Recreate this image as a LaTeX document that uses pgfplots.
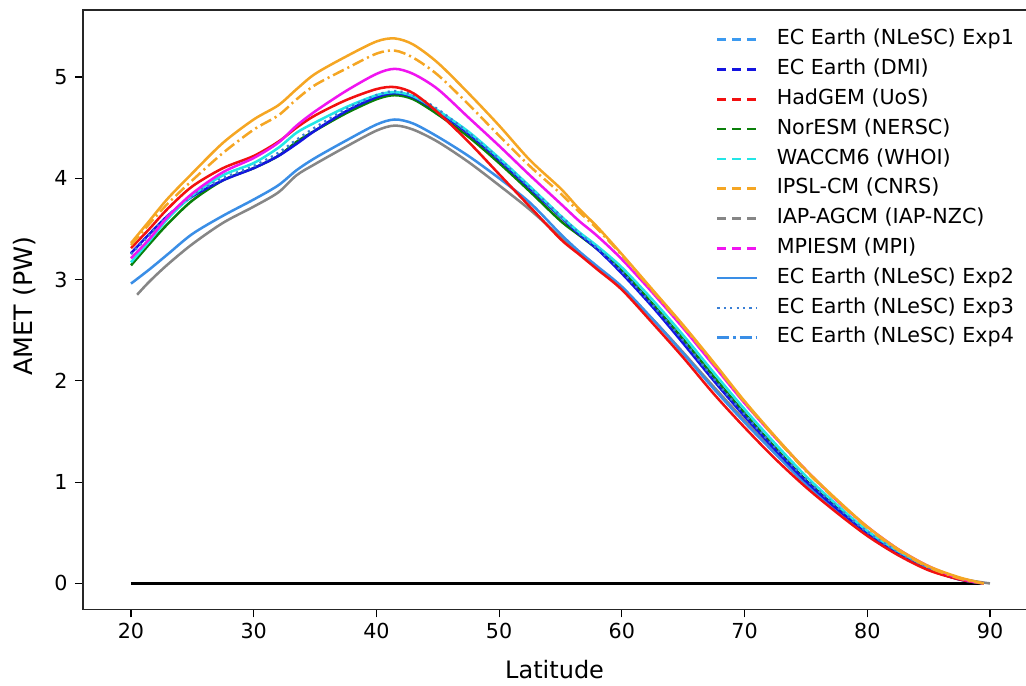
\documentclass[border=0pt]{standalone}
\usepackage{pgfplots}
\pgfplotsset{compat=1.18}
\usepackage{pgfplotstable}
\usepackage{fontspec}
\setmainfont{DejaVu Sans}

\definecolor{cExpA}{HTML}{3C9AF0}
\definecolor{cDMI}{HTML}{1414E0}
\definecolor{cHad}{HTML}{F21010}
\definecolor{cNor}{HTML}{0A800A}
\definecolor{cWac}{HTML}{22E6E6}
\definecolor{cIPSL}{HTML}{F5A623}
\definecolor{cIAP}{HTML}{868686}
\definecolor{cMPI}{HTML}{F014F0}
\definecolor{cExpB}{HTML}{3A8EE6}
\definecolor{cExpC}{HTML}{3A7FD5}

\pgfplotstableread{
lat   ipsl  ipsldd mpi  had  dmi  waccm nor  exptwo expthree
20    3.36  3.34  3.21  3.31 3.26 3.17  3.14 2.96  3.25
21.5  3.58  3.55  3.40  3.50 3.45 3.38  3.35 3.10  3.44
23    3.80  3.75  3.62  3.70 3.63 3.60  3.55 3.25  3.63
25    4.05  3.98  3.85  3.92 3.82 3.83  3.78 3.45  3.83
27.5  4.35  4.25  4.06  4.10 3.98 4.03  3.98 3.63  4.00
30    4.58  4.48  4.20  4.22 4.10 4.15  4.10 3.79  4.12
32    4.72  4.62  4.35  4.36 4.22 4.30  4.22 3.93  4.25
33.5  4.88  4.78  4.52  4.50 4.34 4.45  4.36 4.08  4.38
35    5.03  4.92  4.66  4.62 4.47 4.55  4.47 4.20  4.50
37.5  5.20  5.08  4.86  4.77 4.66 4.70  4.64 4.37  4.68
40    5.35  5.23  5.03  4.88 4.80 4.82  4.78 4.53  4.82
41.5  5.38  5.26  5.08  4.90 4.84 4.85  4.82 4.58  4.86
43    5.32  5.19  5.03  4.84 4.80 4.81  4.78 4.54  4.82
45    5.14  5.02  4.88  4.65 4.66 4.67  4.63 4.41  4.68
47.5  4.84  4.73  4.60  4.36 4.44 4.46  4.41 4.22  4.45
50    4.52  4.42  4.32  4.04 4.18 4.20  4.15 4.00  4.19
52.5  4.18  4.12  4.03  3.72 3.90 3.92  3.87 3.76  3.91
55    3.90  3.85  3.75  3.40 3.62 3.63  3.58 3.45  3.63
56.5  3.70  3.67  3.58  3.25 3.45 3.47  3.44 3.28  3.46
58    3.52  3.50  3.43  3.10 3.30 3.33  3.30 3.13  3.31
60    3.25  3.24  3.20  2.90 3.06 3.12  3.09 2.93  3.08
62.5  2.90  2.89  2.87  2.57 2.73 2.80  2.76 2.61  2.75
65    2.55  2.54  2.52  2.23 2.37 2.45  2.41 2.27  2.40
67.5  2.18  2.17  2.15  1.87 2.00 2.08  2.04 1.92  2.02
70    1.80  1.79  1.78  1.54 1.65 1.72  1.68 1.59  1.67
72.5  1.45  1.44  1.44  1.23 1.32 1.38  1.34 1.28  1.34
75    1.12  1.11  1.12  0.95 1.01 1.06  1.02 0.98  1.03
77.5  0.83  0.82  0.82  0.70 0.74 0.78  0.75 0.72  0.76
80    0.56  0.55  0.56  0.47 0.50 0.52  0.50 0.48  0.51
82.5  0.34  0.33  0.34  0.28 0.30 0.32  0.30 0.29  0.31
85    0.17  0.16  0.17  0.13 0.14 0.16  0.15 0.14  0.15
87.5  0.06  0.05  0.05  0.04 0.04 0.05  0.05 0.04  0.05
89.5  0.00  0.00  0.00  0.00 0.00 0.00  0.00 0.00  0.00
}\maindata

\pgfplotstableread{
lat   iap
20.5  2.85
21.5  2.98
23    3.15
25    3.35
27.5  3.56
30    3.72
32    3.86
33.5  4.03
35    4.14
37.5  4.31
40    4.47
41.5  4.52
43    4.48
45    4.36
47.5  4.16
50    3.93
52.5  3.69
55    3.42
56.5  3.26
58    3.11
60    2.91
62.5  2.61
65    2.28
67.5  1.94
70    1.61
72.5  1.29
75    1.00
77.5  0.74
80    0.50
82.5  0.30
85    0.15
87.5  0.05
90    0.00
}\iapdata

\begin{document}
\begin{tikzpicture}
\begin{axis}[
  scale only axis,
  width=710.25pt, height=449.6pt,
  xmin=16.09, xmax=93.26,
  ymin=-0.257, ymax=5.661,
  xtick={20,30,...,90},
  ytick={0,1,2,3,4,5},
  tick pos=left,
  tick align=outside,
  major tick length=6pt,
  tick style={black, line width=0.9pt},
  axis line style={black!85, line width=1.1pt},
  /pgf/number format/assume math mode=true,
  ticklabel style={font=\fontsize{15.5}{18}\selectfont},
  yticklabel style={xshift=-2pt},
  xticklabel style={yshift=-1pt},
  xlabel={Latitude},
  ylabel={AMET (PW)},
  every axis x label/.style={at={(rel axis cs:0.498,-0.100)}, anchor=center, font=\fontsize{18}{22}\selectfont},
  every axis y label/.style={at={(rel axis cs:-0.0612,0.506)}, anchor=center, rotate=90, font=\fontsize{19}{22}\selectfont},
  legend cell align=left,
  legend image code/.code={\draw[#1] (0pt,0pt) -- (30pt,0pt);},
  legend style={draw=none, fill=none,
    at={(rel axis cs:0.664,0.971)}, anchor=north west,
    font=\fontsize{15.5}{18}\selectfont,
    nodes={inner sep=0pt, text height=11pt, text depth=3pt},
    row sep=8.35pt, column sep=13.5pt},
]
\addlegendimage{cExpA, line width=2pt, dash pattern=on 6.75pt off 4.5pt}
\addlegendentry{EC Earth (NLeSC) Exp1}
\addlegendimage{cDMI, line width=2pt, dash pattern=on 6.75pt off 4.5pt}
\addlegendentry{EC Earth (DMI)}
\addlegendimage{cHad, line width=2pt, dash pattern=on 6.75pt off 4.5pt}
\addlegendentry{HadGEM (UoS)}
\addlegendimage{cNor, line width=2pt, dash pattern=on 6.75pt off 4.5pt}
\addlegendentry{NorESM (NERSC)}
\addlegendimage{cWac, line width=2pt, dash pattern=on 6.75pt off 4.5pt}
\addlegendentry{WACCM6 (WHOI)}
\addlegendimage{cIPSL, line width=2pt, dash pattern=on 6.75pt off 4.5pt}
\addlegendentry{IPSL-CM (CNRS)}
\addlegendimage{cIAP, line width=2pt, dash pattern=on 6.75pt off 4.5pt}
\addlegendentry{IAP-AGCM (IAP-NZC)}
\addlegendimage{cMPI, line width=2pt, dash pattern=on 6.75pt off 4.5pt}
\addlegendentry{MPIESM (MPI)}
\addlegendimage{cExpB, line width=2pt}
\addlegendentry{EC Earth (NLeSC) Exp2}
\addlegendimage{cExpC, line width=2pt, dash pattern=on 1.6pt off 3.2pt}
\addlegendentry{EC Earth (NLeSC) Exp3}
\addlegendimage{cExpB, line width=2pt, dash pattern=on 9pt off 3pt on 1.6pt off 3pt}
\addlegendentry{EC Earth (NLeSC) Exp4}

\addplot[black, line width=2.6pt, forget plot] coordinates {(20,0) (89.4,0)};

\addplot[cIAP, line width=1.9pt, smooth, forget plot] table[x=lat, y=iap] {\iapdata};
\addplot[cExpB, line width=1.9pt, smooth, forget plot] table[x=lat, y=exptwo] {\maindata};
\addplot[cNor, line width=1.9pt, smooth, forget plot] table[x=lat, y=nor] {\maindata};
\addplot[cDMI, line width=1.9pt, smooth, forget plot] table[x=lat, y=dmi] {\maindata};
\addplot[cWac, line width=1.9pt, smooth, forget plot] table[x=lat, y=waccm] {\maindata};
\addplot[cExpC, line width=1.9pt, smooth, dash pattern=on 1.6pt off 3.2pt, forget plot] table[x=lat, y=expthree] {\maindata};
\addplot[cHad, line width=1.9pt, smooth, forget plot] table[x=lat, y=had] {\maindata};
\addplot[cMPI, line width=1.9pt, smooth, forget plot] table[x=lat, y=mpi] {\maindata};
\addplot[cIPSL, line width=1.9pt, smooth, dash pattern=on 9pt off 3pt on 1.6pt off 3pt, forget plot] table[x=lat, y=ipsldd] {\maindata};
\addplot[cIPSL, line width=1.9pt, smooth, forget plot] table[x=lat, y=ipsl] {\maindata};

\coordinate (bbsw) at (rel axis cs:-0.08765,-0.1276);
\coordinate (bbne) at (rel axis cs:0.99578,1.01668);
\end{axis}
\pgfresetboundingbox
\path (bbsw) rectangle (bbne);
\end{tikzpicture}
\end{document}
